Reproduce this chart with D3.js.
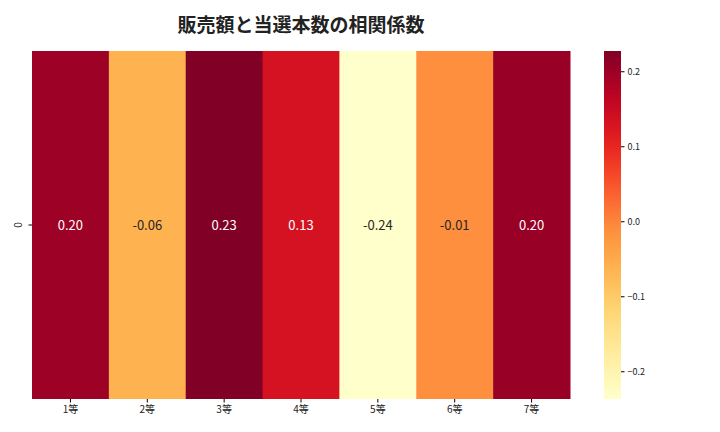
<!DOCTYPE html>
<html><head><meta charset="utf-8">
<script src="https://d3js.org/d3.v7.min.js"></script>
<style>body{margin:0;background:#fff}text{font-family:"Noto Sans CJK JP","Noto Sans",sans-serif}</style>
</head><body><svg id="c" width="720" height="432"></svg>
<script>
// heatmap data: correlation of sales vs number of winners per prize
const categories = ['1等', '2等', '3等', '4等', '5等', '6等', '7等'];
const values = [0.198, -0.063, 0.227, 0.131, -0.237, -0.012, 0.203];
const cbarTicks = [-0.2, -0.1, 0.0, 0.1, 0.2];

const svg = d3.select('#c');
const x0 = 32, x1 = 570, y0 = 51, y1 = 399;
const vmin = d3.min(values), vmax = d3.max(values);
const color = d3.scaleSequential(d3.interpolateYlOrRd).domain([vmin, vmax]);

const x = d3.scaleBand().domain(categories).range([x0, x1]);

svg.append('text').attr('x', 301).attr('y', 32).attr('text-anchor', 'middle')
  .attr('font-size', 19).attr('font-weight', 'bold').attr('fill', '#222')
  .text('販売額と当選本数の相関係数');

svg.append('g').selectAll('rect').data(values).join('rect')
  .attr('x', (d, i) => x(categories[i])).attr('y', y0)
  .attr('width', x.bandwidth() + 0.5).attr('height', y1 - y0)
  .attr('fill', d => color(d));

svg.append('g').selectAll('text').data(values).join('text')
  .attr('x', (d, i) => x(categories[i]) + x.bandwidth() / 2)
  .attr('y', (y0 + y1) / 2).attr('dy', '0.35em')
  .attr('text-anchor', 'middle').attr('font-size', 13)
  .attr('fill', d => {
    const c = d3.rgb(color(d));
    const lum = 0.2126 * c.r + 0.7152 * c.g + 0.0722 * c.b;
    return lum / 255 > 0.6 ? '#262626' : '#fff';
  })
  .text(d => d.toFixed(2));

// x axis
const xa = svg.append('g').attr('transform', `translate(0,${y1})`)
  .call(d3.axisBottom(x).tickSize(3.5).tickPadding(3));
xa.select('.domain').remove();
xa.selectAll('text').attr('font-size', 10).attr('fill', '#222');

// y tick "0"
const yc = (y0 + y1) / 2;
svg.append('line').attr('x1', 28.5).attr('x2', 32).attr('y1', yc).attr('y2', yc).attr('stroke', '#000');
svg.append('text').attr('transform', `translate(22,${yc}) rotate(-90)`)
  .attr('text-anchor', 'middle').attr('font-size', 10).attr('fill', '#222').text('0');

// colorbar
const cbx = 604, cbw = 17;
const cy = d3.scaleLinear().domain([vmin, vmax]).range([y1, y0]);
const grad = svg.append('defs').append('linearGradient').attr('id', 'g')
  .attr('x1', 0).attr('y1', 1).attr('x2', 0).attr('y2', 0);
d3.range(0, 1.0001, 0.05).forEach(t => grad.append('stop')
  .attr('offset', t).attr('stop-color', color(vmin + t * (vmax - vmin))));
svg.append('rect').attr('x', cbx).attr('y', y0).attr('width', cbw)
  .attr('height', y1 - y0).attr('fill', 'url(#g)');
const ca = svg.append('g').attr('transform', `translate(${cbx + cbw},0)`)
  .call(d3.axisRight(cy).tickValues(cbarTicks).tickSize(3.5).tickPadding(3)
    .tickFormat(d => d < 0 ? '−' + Math.abs(d).toFixed(1) : d.toFixed(1)));
ca.select('.domain').remove();
ca.selectAll('text').attr('font-size', 9).attr('fill', '#222');
</script></body></html>
